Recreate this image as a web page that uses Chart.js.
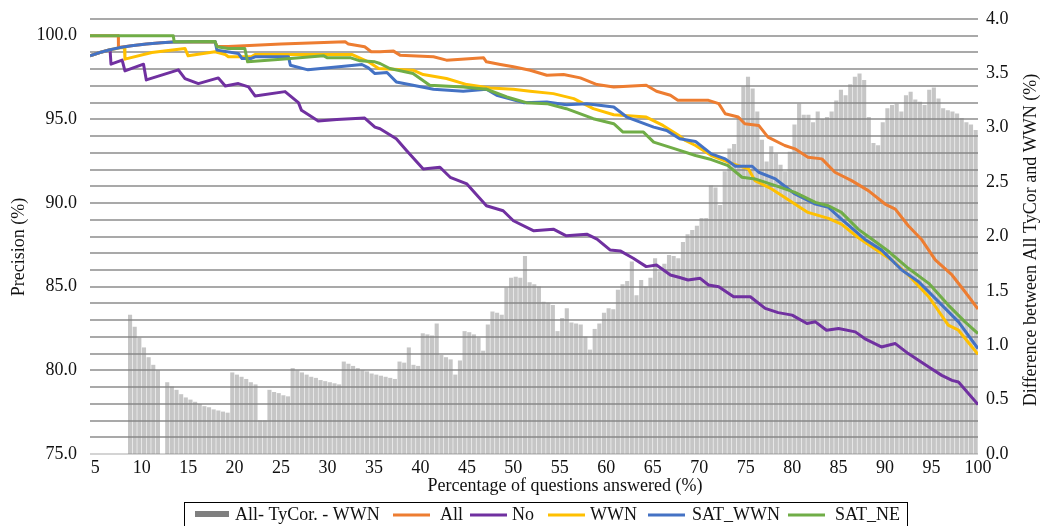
<!DOCTYPE html>
<html>
<head>
<meta charset="utf-8">
<script src="https://cdn.jsdelivr.net/npm/chart.js@4.4.1/dist/chart.umd.min.js"></script>
<style>
html,body{margin:0;padding:0;background:#fff;}
#wrap{width:1041px;height:526px;position:relative;}
</style>
</head>
<body>
<div id="wrap"><canvas id="c"></canvas></div>
<script>
// ---------- data ----------
const xTicks = [5,10,15,20,25,30,35,40,45,50,55,60,65,70,75,80,85,90,95,100];
const leftTicks = [75,80,85,90,95,100];
const rightTicks = [0,0.5,1,1.5,2,2.5,3,3.5,4];

const seriesNames = ['All- TyCor. - WWN','All','No','WWN','SAT_WWN','SAT_NE'];
const xTitle = 'Percentage of questions answered (%)';
const leftTitle = 'Precision (%)';
const rightTitle = 'Difference between All TyCor and WWN (%)';

// difference bars: first category 8.75, one category every 0.5 %
const barStart = 8.75, barStep = 0.5;
const diffBars = [
 1.28,1.17,1.07,0.98,0.89,0.82,0.77,0,0.66,0.62,0.59,0.55,0.52,0.50,0.48,0.46,0.44,0.43,0.41,0.40,0.39,0.38,
 0.75,0.73,0.71,0.69,0.66,0.64,0.31,0.31,0.59,0.57,0.56,0.54,0.53,0.79,0.77,0.75,0.73,0.71,0.70,0.68,0.67,0.66,
 0.65,0.64,0.85,0.83,0.81,0.79,0.77,0.76,0.74,0.73,0.72,
 0.71,0.70,0.69,0.85,0.84,0.98,0.82,0.81,1.11,1.10,1.09,1.20,0.91,0.89,0.87,0.73,0.86,1.13,1.12,1.10,1.07,0.95,
 1.19,1.31,1.30,1.28,1.53,1.62,1.63,1.62,1.82,1.58,1.56,1.54,1.40,1.39,1.37,1.13,1.25,1.34,1.21,1.20,1.19,1.08,
 0.96,1.15,1.20,1.30,1.34,1.33,1.51,1.56,1.59,1.77,1.46,1.60,1.54,1.62,1.80,1.68,1.75,1.83,1.82,1.80,
 1.95,2.02,2.06,2.10,2.17,2.17,2.47,2.45,2.29,2.60,2.81,2.85,3.10,3.38,3.47,3.36,3.15,2.89,2.69,2.83,2.76,2.66,
 2.60,2.78,3.03,3.22,3.12,3.12,3.05,3.15,3.08,3.10,3.15,3.25,3.35,3.30,3.40,3.47,3.50,3.44,3.10,2.86,2.84,3.05,
 3.18,3.21,3.22,3.15,3.30,3.33,3.26,3.24,3.21,3.35,3.37,3.27,3.18,3.16,3.15,3.13,3.09,3.05,3.03,2.98
];

// precision curves: [percentage answered, precision]
const allPts = [[4.44,100],[7.49,100],[7.5,99.3],[8.9,99.4],[10.5,99.5],[12.1,99.58],[13.4,99.62],[17.9,99.64],[18.1,99.36],[19.33,99.36],[25,99.5],[31.9,99.64],[32.25,99.5],[34.0,99.34],[34.7,99.04],[35.65,99.04],[37.1,99.08],[37.8,98.84],[41.4,98.74],[42.8,98.54],[46.8,98.68],[47.1,98.44],[48.6,98.28],[50.0,98.14],[51.8,97.94],[53.6,97.64],[55.4,97.68],[57.2,97.48],[59.0,97.08],[60.8,96.94],[64.3,97.04],[65.4,96.68],[66.9,96.44],[67.7,96.14],[71.0,96.14],[72.1,95.94],[72.8,95.34],[74.2,95.14],[74.9,94.74],[76.4,94.64],[77.4,93.94],[79.2,93.44],[80.3,93.24],[81.7,92.74],[83.2,92.64],[84.6,91.84],[86.4,91.34],[88.2,90.74],[90.0,89.94],[91.1,89.64],[92.5,88.64],[93.9,87.84],[95.4,86.6],[97.2,85.7],[98.6,84.7],[100,83.66]];
const noPts = [[4.44,98.8],[5.5,99.0],[6.6,99.16],[6.7,98.3],[7.9,98.54],[8.2,97.9],[10.2,98.3],[10.5,97.36],[13.95,97.96],[14.66,97.44],[16.1,97.14],[18.25,97.48],[19.0,97.0],[20.4,97.14],[21.5,96.94],[22.2,96.4],[25.43,96.66],[26.87,96.0],[27.2,95.54],[29.0,94.9],[31.0,95.0],[34.0,95.08],[35.1,94.54],[35.65,94.44],[37.4,93.84],[38.5,93.14],[40.3,92.04],[42.1,92.14],[43.2,91.54],[45.0,91.14],[47.1,89.84],[48.9,89.54],[50.0,88.94],[52.2,88.34],[54.3,88.44],[55.7,88.04],[57.9,88.14],[59.0,87.84],[60.4,87.2],[61.5,87.14],[62.9,86.7],[64.3,86.2],[65.4,86.3],[66.9,85.7],[67.9,85.55],[68.8,85.4],[70.1,85.5],[71.0,85.1],[72.1,85.0],[73.7,84.4],[75.5,84.4],[77.1,83.7],[78.5,83.45],[80.0,83.3],[81.6,82.8],[82.5,82.9],[83.7,82.4],[85.0,82.5],[86.8,82.3],[87.8,81.9],[89.6,81.4],[91.1,81.6],[92.5,81.0],[94.7,80.2],[96.1,79.7],[97.2,79.4],[97.9,79.3],[100,77.95]];
const wwnPts = [[4.44,98.8],[5.5,99.0],[6.6,99.16],[7.7,99.28],[8.15,99.3],[8.2,98.6],[11.1,99.0],[14.66,99.24],[15.0,98.8],[17.9,99.04],[19.0,98.88],[19.33,98.74],[21.8,98.74],[22.2,98.88],[32.6,98.88],[34.4,98.44],[35.5,98.04],[39.2,97.94],[40.3,97.68],[42.8,97.44],[45.0,97.08],[47.5,96.88],[50.0,96.8],[51.8,96.68],[54.3,96.54],[56.5,96.24],[58.6,95.64],[60.8,95.28],[64.3,95.14],[66.1,94.64],[67.9,94.0],[68.5,93.74],[69.6,93.44],[71.3,92.84],[73.1,92.44],[75.3,92.04],[76.0,91.34],[77.8,90.84],[80.0,90.04],[81.7,89.44],[83.9,89.08],[85.3,88.74],[87.1,87.94],[88.0,87.6],[90.7,86.6],[92.5,85.7],[94.7,84.4],[96.8,82.7],[97.9,82.4],[100,80.96]];
const satWwnPts = [[4.44,98.8],[5.5,99.0],[6.6,99.16],[7.7,99.3],[8.9,99.4],[10.5,99.5],[12.1,99.58],[13.4,99.62],[17.9,99.66],[18.1,99.14],[20.4,98.94],[20.8,98.64],[21.8,98.64],[22.2,98.74],[25.8,98.74],[26.0,98.24],[27.9,97.96],[33.7,98.28],[34.4,98.08],[35.1,97.74],[36.4,97.8],[37.4,97.24],[39.2,97.04],[41.4,96.8],[44.6,96.68],[47.1,96.8],[48.2,96.44],[51.1,96.0],[53.6,96.04],[55.7,95.88],[57.9,95.94],[60.8,95.74],[62.2,95.14],[65.1,94.54],[66.5,94.34],[67.9,93.84],[69.6,93.68],[71.3,92.94],[72.8,92.64],[73.9,92.2],[75.7,92.2],[76.4,91.84],[78.2,91.44],[80.3,90.54],[82.5,89.94],[83.9,89.74],[85.3,89.04],[87.8,87.84],[89.6,87.2],[91.8,86.0],[93.6,85.3],[95.4,84.3],[97.9,82.9],[100,81.3]];
const satNePts = [[4.44,100],[13.4,100],[13.5,99.64],[17.9,99.66],[18.1,99.34],[19.3,99.24],[21.1,99.24],[21.4,98.44],[25.0,98.6],[29.6,98.8],[30.0,98.68],[32.5,98.68],[33.5,98.5],[35.1,98.44],[35.65,98.34],[36.7,98.04],[39.2,97.74],[41.0,97.04],[44.6,96.94],[47.1,96.8],[49.3,96.34],[51.4,96.0],[53.6,95.94],[55.7,95.64],[58.6,95.04],[60.8,94.74],[61.8,94.24],[64.0,94.24],[65.1,93.64],[67.4,93.24],[69.6,92.84],[71.3,92.6],[73.1,92.24],[74.6,91.54],[76.0,91.44],[78.2,91.04],[80.3,90.64],[82.5,90.04],[83.9,89.84],[85.3,89.44],[87.1,88.44],[88.6,87.84],[90.4,87.1],[92.5,86.1],[94.7,85.2],[96.8,83.9],[98.6,82.9],[100,82.2]];

const colors = ['rgba(128,128,128,0.45)','#ED7D31','#7030A0','#FFC000','#4472C4','#70AD47'];
const legendSwatch = '#7f7f7f';

// ---------- chart ----------
const FONT = '"Liberation Serif", "Times New Roman", serif';
const toXY = pts => pts.map(p => ({x: p[0], y: p[1]}));
const lineDs = (i, pts, order) => ({
  type: 'line', label: seriesNames[i], data: toXY(pts), yAxisID: 'y',
  borderColor: colors[i], backgroundColor: colors[i], borderWidth: 3,
  pointRadius: 0, tension: 0, fill: false, order: order,
  borderJoinStyle: 'round', borderCapStyle: 'butt'
});
const noPad = s => { s.paddingTop = 0; s.paddingBottom = 0; s.paddingLeft = 0; s.paddingRight = 0; };

const extraText = {
  id: 'extraText',
  afterDraw(chart) {
    const ctx = chart.ctx;
    ctx.save();
    ctx.fillStyle = '#111';
    ctx.font = '18px ' + FONT;
    ctx.textAlign = 'center';
    ctx.textBaseline = 'middle';
    ctx.fillText(xTitle, 565, 486);
    ctx.save(); ctx.translate(19, 247); ctx.rotate(-Math.PI/2); ctx.fillText(leftTitle, 0, 0); ctx.restore();
    ctx.save(); ctx.translate(1031, 240); ctx.rotate(-Math.PI/2); ctx.fillText(rightTitle, 0, 0); ctx.restore();

    // legend
    ctx.strokeStyle = '#000'; ctx.lineWidth = 1;
    ctx.strokeRect(184.5, 502.5, 723, 40);
    ctx.textAlign = 'left';
    const ly = 515;
    ctx.fillStyle = legendSwatch;
    ctx.fillRect(195, 511, 34, 6);
    ctx.fillStyle = '#111';
    ctx.fillText(seriesNames[0], 235, ly);
    const items = [[393, 440], [470, 512], [548, 590], [648, 692], [788, 835]];
    items.forEach((it, k) => {
      ctx.strokeStyle = colors[k + 1]; ctx.lineWidth = 3;
      ctx.beginPath(); ctx.moveTo(it[0], ly); ctx.lineTo(it[0] + 37, ly); ctx.stroke();
      ctx.fillStyle = '#111';
      ctx.fillText(seriesNames[k + 1], it[1], ly);
    });
    ctx.restore();
  }
};

new Chart(document.getElementById('c'), {
  type: 'line',
  data: {
    datasets: [
      {
        type: 'bar', label: seriesNames[0], yAxisID: 'y1',
        data: diffBars.map((v, i) => ({x: barStart + i * barStep, y: v})),
        backgroundColor: colors[0], borderWidth: 0,
        barPercentage: 0.88, categoryPercentage: 1.0, order: 10
      },
      lineDs(1, allPts, 5),
      lineDs(2, noPts, 4),
      lineDs(3, wwnPts, 3),
      lineDs(4, satWwnPts, 2),
      lineDs(5, satNePts, 1)
    ]
  },
  options: {
    responsive: true, maintainAspectRatio: false, animation: false,
    events: [],
    layout: {padding: {top: 19, left: 0, right: 0, bottom: 0}},
    plugins: {legend: {display: false}, tooltip: {enabled: false}, title: {display: false}},
    scales: {
      x: {
        type: 'linear', min: 4.44, max: 100, offset: false,
        grid: {display: false, offset: false}, border: {display: false},
        afterBuildTicks: s => { s.ticks = xTicks.map(v => ({value: v})); },
        afterFit: s => { s.height = 72; noPad(s); },
        ticks: {
          autoSkip: false, maxRotation: 0, padding: -5, color: '#111',
          font: {family: FONT, size: 18},
          callback: v => String(v)
        }
      },
      y: {
        type: 'linear', position: 'left', min: 75, max: 101,
        afterFit: s => { s.width = 90; noPad(s); },
        border: {display: false},
        grid: {
          drawTicks: false, lineWidth: 2,
          color: c => (c.tick && c.tick.value === 75) ? '#d4d4d4' : '#a9a9a9'
        },
        ticks: {
          stepSize: 1, autoSkip: false, padding: 13, color: '#111',
          font: {family: FONT, size: 18},
          callback: v => leftTicks.includes(v) ? v.toFixed(1) : ''
        }
      },
      y1: {
        type: 'linear', position: 'right', min: 0, max: 4,
        afterFit: s => { s.width = 63; noPad(s); },
        afterBuildTicks: s => { s.ticks = rightTicks.map(v => ({value: v})); },
        border: {display: false},
        grid: {display: false, drawTicks: false},
        ticks: {
          autoSkip: false, padding: 8, color: '#111',
          font: {family: FONT, size: 18},
          callback: v => v.toFixed(1)
        }
      }
    }
  },
  plugins: [extraText]
});
</script>
</body>
</html>
